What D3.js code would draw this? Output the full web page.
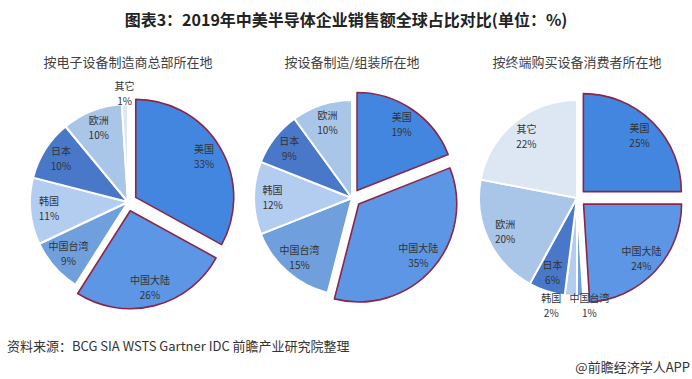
<!DOCTYPE html>
<html>
<head>
<meta charset="utf-8">
<script src="https://cdn.jsdelivr.net/npm/d3@7"></script>
<style>
  body { margin: 0; background: #fff; }
  svg { display: block; font-family: "Noto Sans CJK SC", "Noto Sans", sans-serif; }
</style>
</head>
<body>
<div id="chart"></div>
<script>
// Data
const regions = ["美国", "中国大陆", "中国台湾", "韩国", "日本", "欧洲", "其它"];
const hqShare = [33, 26, 9, 11, 10, 10, 1];        // 按电子设备制造商总部所在地
const assemblyShare = [19, 35, 15, 12, 9, 10, 0];  // 按设备制造/组装所在地
const consumerShare = [25, 24, 1, 2, 6, 20, 22];   // 按终端购买设备消费者所在地
const pieTitles = ["按电子设备制造商总部所在地", "按设备制造/组装所在地", "按终端购买设备消费者所在地"];
const exploded = ["美国", "中国大陆"];

// Colours per region
const colors = {
    "美国": "#4386e0",
    "中国大陆": "#5d96e4",
    "中国台湾": "#6f9fdc",
    "韩国": "#b3cdf0",
    "日本": "#4a78c8",
    "欧洲": "#a9c5e8",
    "其它": "#dde7f4"
};

// Layout
const width = 692, height = 379;
const R = 98;
const explodeDist = 9;
const pies = [
    { values: hqShare, cx: 128, cy: 202, outside: ["其它"] },
    { values: assemblyShare, cx: 352, cy: 198, outside: [] },
    { values: consumerShare, cx: 577, cy: 198, outside: ["中国台湾", "韩国"] }
];
// horizontal nudge for the crowded outside labels (pie index -> name -> dx)
const outsideNudge = { 0: { "其它": 0 }, 2: { "韩国": -19, "中国台湾": 9 } };

const svg = d3.select("#chart").append("svg")
    .attr("width", width)
    .attr("height", height);

// Main title
svg.append("text")
    .attr("x", 346)
    .attr("y", 26)
    .attr("text-anchor", "middle")
    .attr("font-size", 16)
    .attr("font-weight", "bold")
    .attr("fill", "#222")
    .text("图表3：2019年中美半导体企业销售额全球占比对比(单位：%)");

const pie = d3.pie().sort(null).value(d => d.value);
const arc = d3.arc().innerRadius(0).outerRadius(R);
const labelArc = d3.arc().innerRadius(R * 0.81).outerRadius(R * 0.81);
const outerLabelArc = d3.arc().innerRadius(R * 1.1).outerRadius(R * 1.1);

pies.forEach((p, i) => {
    const data = regions.map((name, k) => ({ name, value: p.values[k] })).filter(d => d.value > 0);
    const g = svg.append("g").attr("transform", `translate(${p.cx},${p.cy})`);

    // pie subtitle
    svg.append("text")
        .attr("x", p.cx)
        .attr("y", 67)
        .attr("text-anchor", "middle")
        .attr("font-size", 13)
        .attr("fill", "#404040")
        .text(pieTitles[i]);

    const arcs = pie(data);

    const offset = d => {
        if (!exploded.includes(d.data.name)) return [0, 0];
        const a = (d.startAngle + d.endAngle) / 2;
        return [Math.sin(a) * explodeDist, -Math.cos(a) * explodeDist];
    };

    // plain slices first, exploded ones on top
    const ordered = arcs.slice().sort((a, b) =>
        exploded.includes(a.data.name) - exploded.includes(b.data.name));

    g.selectAll("path")
        .data(ordered)
        .join("path")
        .attr("transform", d => `translate(${offset(d)})`)
        .attr("d", arc)
        .attr("fill", d => colors[d.data.name])
        .attr("stroke", d => exploded.includes(d.data.name) ? "#8b2648" : "#fff")
        .attr("stroke-width", d => exploded.includes(d.data.name) ? 1.6 : 2)
        .attr("stroke-linejoin", "round");

    // labels
    const labels = g.selectAll("g.lbl")
        .data(arcs)
        .join("g")
        .attr("class", "lbl")
        .attr("transform", d => {
            const off = offset(d);
            const out = p.outside.includes(d.data.name);
            const c = out ? outerLabelArc.centroid(d) : labelArc.centroid(d);
            const dx = out && outsideNudge[i] ? (outsideNudge[i][d.data.name] || 0) : 0;
            return `translate(${c[0] + off[0] + dx},${c[1] + off[1]})`;
        });

    labels.append("text")
        .attr("y", -4)
        .attr("text-anchor", "middle")
        .attr("font-size", 10)
        .attr("fill", "#333")
        .text(d => d.data.name);

    labels.append("text")
        .attr("y", 11)
        .attr("text-anchor", "middle")
        .attr("font-size", 10)
        .attr("fill", "#333")
        .text(d => d.data.value + "%");
});

// Source note
svg.append("text")
    .attr("x", 7)
    .attr("y", 351)
    .attr("font-size", 13)
    .attr("fill", "#333")
    .text("资料来源：BCG SIA WSTS Gartner IDC 前瞻产业研究院整理");

svg.append("text")
    .attr("x", 690)
    .attr("y", 372)
    .attr("text-anchor", "end")
    .attr("font-size", 13)
    .attr("fill", "#333")
    .text("@前瞻经济学人APP");
</script>
</body>
</html>
